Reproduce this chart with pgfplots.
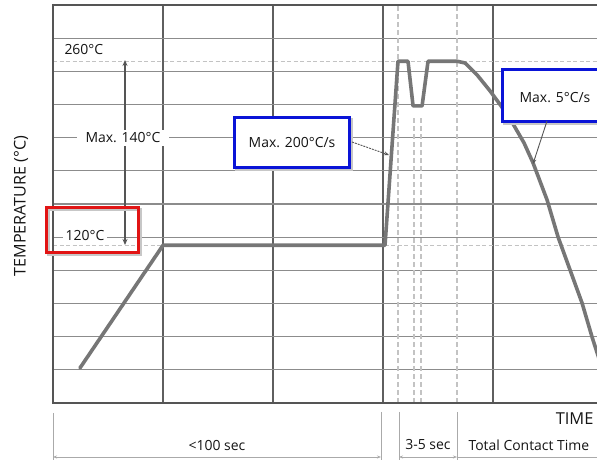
\documentclass[border=0pt]{standalone}
\usepackage{pgfplots}
\usepackage{pgfplotstable}
\pgfplotsset{compat=1.18}
\usepackage{fontspec}
\setmainfont{Open Sans}
\usetikzlibrary{arrows.meta}

\definecolor{curve}{RGB}{118,118,118}
\definecolor{frame}{RGB}{85,85,85}
\definecolor{gridv}{RGB}{95,95,95}
\definecolor{gridh}{RGB}{140,140,140}
\definecolor{dashc}{RGB}{195,195,195}
\definecolor{dim}{RGB}{170,170,170}
\definecolor{boxred}{RGB}{225,20,20}
\definecolor{boxblue}{RGB}{10,20,215}
\definecolor{txt}{RGB}{20,20,20}

% reflow profile: x in grid divisions, y in degC
\pgfplotstableread{
x y
0.245 26.6
1.0 120
3.018 120
3.136 260
3.227 260
3.273 226
3.355 226
3.409 260
3.673 260
3.745 258.7
3.855 249.6
3.973 237.4
4.073 226.0
4.182 212.3
4.282 197.8
4.364 182.6
4.491 154.5
4.591 126.3
4.7 101.2
4.809 76.1
4.9 50.2
4.973 31.2
}\profile

\begin{document}
\begin{tikzpicture}[font=\fontsize{14}{16}\selectfont, text=txt]
\useasboundingbox (-53bp,-57bp) rectangle (544bp,403bp);
\clip (-53bp,-57bp) rectangle (544bp,403bp);
\begin{axis}[
  at={(0,0)}, anchor=south west,
  scale only axis, width=544bp, height=398bp,
  xmin=0, xmax=4.945, ymin=0, ymax=302.8,
  axis line style={draw=none},
  xtick={1,2,3,4},
  ytick={25.23,50.47,75.7,100.93,126.17,151.4,176.63,201.87,227.1,252.33,277.57},
  xticklabels={}, yticklabels={},
  major tick length=0pt,
  grid=major,
  major x grid style={gridv, line width=1.4bp},
  major y grid style={gridh, line width=1.3bp},
]
\addplot[dashc, line width=1.2bp, dash pattern=on 4bp off 2.5bp] coordinates {(0,260) (4.945,260)};
\addplot[dashc, line width=1.2bp, dash pattern=on 4bp off 2.5bp] coordinates {(0,120) (4.945,120)};
\addplot[dashc, line width=1.2bp, dash pattern=on 5bp off 3bp] coordinates {(3.136,0) (3.136,302.8)};
\addplot[dashc, line width=1.2bp, dash pattern=on 5bp off 3bp] coordinates {(3.673,0) (3.673,302.8)};
\addplot[dashc, line width=1.2bp, dash pattern=on 5bp off 3bp] coordinates {(3.282,0) (3.282,219)};
\addplot[dashc, line width=1.2bp, dash pattern=on 5bp off 3bp] coordinates {(3.345,0) (3.345,219)};
\addplot[curve, line width=3.6bp, line join=round, line cap=round] table {\profile};
\end{axis}

\begin{scope}[x=1bp, y=-1bp, shift={(-53bp,403bp)}]
% frame (open on the right)
\draw[frame, line width=2.6bp] (52,5) -- (600,5);
\draw[frame, line width=2.6bp] (53,4) -- (53,403) -- (600,403);

% 260 / 140 / 120 annotations
\node[anchor=west] at (61,50) {260°C};
\draw[frame, line width=1.1bp, {Stealth[length=6bp,width=5bp]}-{Stealth[length=6bp,width=5bp]}] (125,60) -- (125,245);
\node[fill=white, inner xsep=9bp, inner ysep=3bp] at (123,138) {Max. 140°C};
\draw[black!22, line width=3bp] (49,210) rectangle (141,255);
\draw[boxred, line width=3bp] (47,208) rectangle (139,253);
\node[fill=white, inner xsep=3bp, inner ysep=1bp] at (85,236) {120°C};

% ramp-up box
\draw[black!22, line width=3bp] (237,120) rectangle (352,170);
\draw[boxblue, line width=3bp, fill=white] (235,118) rectangle (350,168);
\node at (292,143) {Max. 200°C/s};
\draw[frame, line width=0.9bp, dash pattern=on 2bp off 1bp, -{Stealth[length=5bp,width=4bp]}] (352,142) -- (389,155);

% cool-down box
\draw[black!22, line width=3bp] (505,72) rectangle (640,124);
\draw[boxblue, line width=3bp, fill=white] (503,70) rectangle (640,122);
\node at (555,98) {Max. 5°C/s};
\draw[frame, line width=0.9bp, -{Stealth[length=5bp,width=4bp]}] (547,121) -- (533,164);

% axis titles
\node[rotate=90, font=\fontsize{16.2}{18}\selectfont] at (21,206) {TEMPERATURE (°C)};
\node[anchor=east, font=\fontsize{16.5}{18}\selectfont] at (597,419) {TIME};

% time spans under the chart
\draw[dim, line width=0.8bp] (53,413) -- (53,460);
\draw[dim, line width=0.8bp] (381,412) -- (381,460);
\draw[dim, line width=0.8bp] (399,412) -- (399,460);
\draw[dim, line width=0.8bp] (457,412) -- (457,460);
\draw[dim, line width=0.8bp, {Stealth[length=4bp,width=3bp]}-{Stealth[length=4bp,width=3bp]}] (53,457) -- (381,457);
\draw[dim, line width=0.8bp, {Stealth[length=4bp,width=3bp]}-{Stealth[length=4bp,width=3bp]}] (399,457) -- (457,457);
\draw[dim, line width=0.8bp] (457,457) -- (600,457);
\node at (217,446) {<100 sec};
\node at (428,445) {3-5 sec};
\node[anchor=west] at (465,445) {Total Contact Time};
\end{scope}
\end{tikzpicture}
\end{document}
